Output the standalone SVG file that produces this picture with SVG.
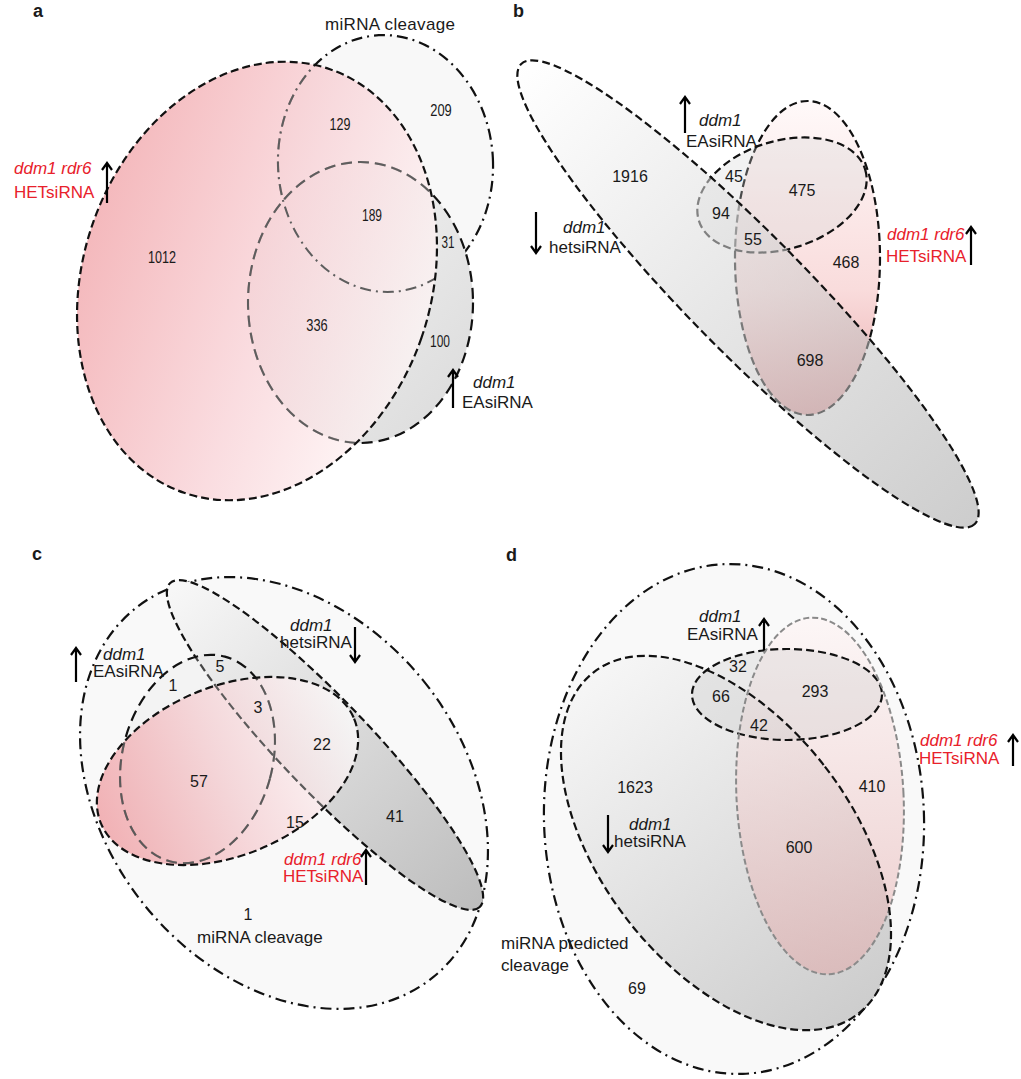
<svg xmlns="http://www.w3.org/2000/svg" width="1021" height="1079" viewBox="0 0 1021 1079">
<style>
text{font-family:"Liberation Sans",Arial,sans-serif;fill:#1a1a1a}
.lbl{font-size:17px}
.num{font-size:16px;text-anchor:middle}
.it{font-style:italic}
.red{fill:#e8212b}
.pn{font-size:18px;font-weight:bold}
.arr{fill:none;stroke:#000;stroke-width:2.2}
</style>
<defs>
<linearGradient id="aRed" x1="0" y1="0" x2="1" y2="0"><stop offset="0" stop-color="#f09ea3"/><stop offset="0.55" stop-color="#f8cfd4"/><stop offset="1" stop-color="#fff6f6"/></linearGradient>
<linearGradient id="aEa" x1="0" y1="0" x2="1" y2="1"><stop offset="0" stop-color="#f8f8f8"/><stop offset="1" stop-color="#dadada"/></linearGradient>
<linearGradient id="bHet" x1="0" y1="0" x2="1" y2="0"><stop offset="0" stop-color="#ffffff"/><stop offset="1" stop-color="#a4a4a4"/></linearGradient>
<linearGradient id="bRed" x1="0" y1="0" x2="0" y2="1"><stop offset="0" stop-color="#fff9f9"/><stop offset="0.6" stop-color="#f9dcdc"/><stop offset="1" stop-color="#e9a9ab"/></linearGradient>
<linearGradient id="cHet" x1="0" y1="0" x2="1" y2="0"><stop offset="0" stop-color="#f8f8f8"/><stop offset="1" stop-color="#bdbdbd"/></linearGradient>
<linearGradient id="cRed" x1="0" y1="0" x2="1" y2="0"><stop offset="0" stop-color="#ee969b"/><stop offset="0.5" stop-color="#f5cdd1"/><stop offset="1" stop-color="#ffffff"/></linearGradient>
<linearGradient id="dHet" x1="0" y1="0" x2="0" y2="1"><stop offset="0" stop-color="#f6f6f6"/><stop offset="1" stop-color="#cdcdcd"/></linearGradient>
<linearGradient id="dRed" x1="0" y1="0" x2="0" y2="1"><stop offset="0" stop-color="#fff4f4"/><stop offset="1" stop-color="#e2aaaa"/></linearGradient>
<clipPath id="clipA"><ellipse cx="257" cy="281" rx="174" ry="224" transform="rotate(19 257 281)"/></clipPath>
<clipPath id="clipC"><ellipse cx="227.5" cy="771" rx="137" ry="84.5" transform="rotate(-22.5 227.5 771)"/></clipPath>
</defs>

<!-- Panel a -->
<g id="panel-a">
<text class="pn" x="33" y="17">a</text>
<g id="a-mirna"><ellipse cx="385.5" cy="163.5" rx="107.5" ry="128.5" transform="rotate(-3 385.5 163.5)" fill="#f8f8f8" stroke="#111" stroke-width="2.2" stroke-dasharray="11 5 2 5"/></g>
<g id="a-easirna"><ellipse cx="360.5" cy="302.5" rx="112.5" ry="140.5" fill="url(#aEa)" stroke="#111" stroke-width="2.2" stroke-dasharray="11 6"/></g>
<g id="a-hetsirna"><ellipse cx="257" cy="281" rx="174" ry="224" transform="rotate(19 257 281)" fill="url(#aRed)" fill-opacity="0.72"/>
<g clip-path="url(#clipA)" fill="none" stroke="#5e5e5e" stroke-width="2">
<ellipse cx="385.5" cy="163.5" rx="107.5" ry="128.5" transform="rotate(-3 385.5 163.5)" stroke-dasharray="11 5 2 5"/>
<ellipse cx="360.5" cy="302.5" rx="112.5" ry="140.5" stroke-dasharray="11 6"/>
</g>
<ellipse cx="257" cy="281" rx="174" ry="224" transform="rotate(19 257 281)" fill="none" stroke="#111" stroke-width="2.2" stroke-dasharray="8 4"/></g>
<text class="lbl" x="325" y="30" textLength="130">miRNA cleavage</text>
<text class="lbl it red" x="14" y="174">ddm1 rdr6</text>
<text class="lbl red" x="14" y="198">HETsiRNA</text>
<text class="lbl it" x="473" y="388">ddm1</text>
<text class="lbl" x="462" y="408">EAsiRNA</text>
<text class="num" x="340" y="130" textLength="21" lengthAdjust="spacingAndGlyphs">129</text>
<text class="num" x="441" y="116" textLength="21.5" lengthAdjust="spacingAndGlyphs">209</text>
<text class="num" x="372" y="221" textLength="20" lengthAdjust="spacingAndGlyphs">189</text>
<text class="num" x="448" y="248" textLength="13" lengthAdjust="spacingAndGlyphs">31</text>
<text class="num" x="162" y="263" textLength="28" lengthAdjust="spacingAndGlyphs">1012</text>
<text class="num" x="317" y="331" textLength="21.5" lengthAdjust="spacingAndGlyphs">336</text>
<text class="num" x="440" y="347" textLength="20" lengthAdjust="spacingAndGlyphs">100</text>
</g>

<!-- Panel b -->
<g id="panel-b">
<text class="pn" x="513" y="17">b</text>
<g id="b-hetsirna-red"><ellipse cx="807.5" cy="258" rx="72.5" ry="157" fill="url(#bRed)" stroke="#111" stroke-width="2.2" stroke-dasharray="8 4"/></g>
<g id="b-easirna"><ellipse cx="782" cy="195" rx="87" ry="54" transform="rotate(-17 782 195)" fill="#d4d4d4" fill-opacity="0.3" stroke="#111" stroke-width="2.2" stroke-dasharray="8 4"/></g>
<g id="b-hetsirna-down"><ellipse cx="748" cy="294" rx="323" ry="59" transform="rotate(45.4 748 294)" fill="url(#bHet)" fill-opacity="0.55" stroke="#111" stroke-width="2.2" stroke-dasharray="8 4"/></g>
<text class="num" x="630" y="182">1916</text>
<text class="num" x="734" y="182">45</text>
<text class="num" x="802" y="196">475</text>
<text class="num" x="721" y="219">94</text>
<text class="num" x="753" y="245">55</text>
<text class="num" x="846" y="268">468</text>
<text class="num" x="810" y="366">698</text>
<text class="lbl it" x="699" y="126">ddm1</text>
<text class="lbl" x="686" y="147">EAsiRNA</text>
<text class="lbl it" x="563" y="233">ddm1</text>
<text class="lbl" x="549" y="253">hetsiRNA</text>
<text class="lbl it red" x="887" y="240">ddm1 rdr6</text>
<text class="lbl red" x="886" y="262">HETsiRNA</text>
</g>

<!-- Panel c -->
<g id="panel-c">
<text class="pn" x="32" y="560">c</text>
<g id="c-mirna"><ellipse cx="284" cy="793" rx="179" ry="237" transform="rotate(-39 284 793)" fill="#f9f9f9" stroke="#111" stroke-width="2.2" stroke-dasharray="11 5 2 5"/></g>
<g id="c-hetsirna-down"><ellipse cx="325" cy="745" rx="224" ry="45" transform="rotate(46.3 325 745)" fill="url(#cHet)" stroke="#111" stroke-width="2.2" stroke-dasharray="8 4"/></g>
<g id="c-easirna"><ellipse cx="197.5" cy="759" rx="75" ry="106" transform="rotate(15 197.5 759)" fill="#e4e4e4" fill-opacity="0.25" stroke="#111" stroke-width="2.2" stroke-dasharray="11 6"/></g>
<g id="c-hetsirna-red"><ellipse cx="227.5" cy="771" rx="137" ry="84.5" transform="rotate(-22.5 227.5 771)" fill="url(#cRed)" fill-opacity="0.72"/>
<g clip-path="url(#clipC)" fill="none" stroke="#5a5a5a" stroke-width="2">
<ellipse cx="325" cy="745" rx="224" ry="45" transform="rotate(46.3 325 745)" stroke-dasharray="8 4"/>
<ellipse cx="197.5" cy="759" rx="75" ry="106" transform="rotate(15 197.5 759)" stroke-dasharray="11 6"/>
</g>
<ellipse cx="227.5" cy="771" rx="137" ry="84.5" transform="rotate(-22.5 227.5 771)" fill="none" stroke="#111" stroke-width="2.2" stroke-dasharray="8 4"/></g>
<text class="lbl it" x="103" y="660">ddm1</text>
<text class="lbl" x="93" y="677">EAsiRNA</text>
<text class="lbl it" x="290" y="631">ddm1</text>
<text class="lbl" x="280" y="648">hetsiRNA</text>
<text class="lbl it red" x="284" y="865">ddm1 rdr6</text>
<text class="lbl red" x="283" y="882">HETsiRNA</text>
<text class="lbl" x="197" y="943">miRNA cleavage</text>
<text class="num" x="220" y="672">5</text>
<text class="num" x="173" y="691">1</text>
<text class="num" x="258" y="713">3</text>
<text class="num" x="322" y="750">22</text>
<text class="num" x="199" y="787">57</text>
<text class="num" x="295" y="828">15</text>
<text class="num" x="395" y="822">41</text>
<text class="num" x="248" y="920">1</text>
</g>

<!-- Panel d -->
<g id="panel-d">
<text class="pn" x="506" y="561">d</text>
<g id="d-mirna"><ellipse cx="734" cy="819" rx="190" ry="255" transform="rotate(-2 734 819)" fill="#f9f9f9" stroke="#111" stroke-width="2.2" stroke-dasharray="11 5 2 5"/></g>
<g id="d-hetsirna-down"><ellipse cx="726" cy="843" rx="125" ry="216" transform="rotate(-37.7 726 843)" fill="url(#dHet)"/></g>
<g id="d-hetsirna-red"><ellipse cx="820" cy="796" rx="83.5" ry="178.5" transform="rotate(-3 820 796)" fill="url(#dRed)" fill-opacity="0.55"/></g>
<g id="d-easirna"><ellipse cx="787" cy="694.5" rx="95" ry="45.5" fill="#c4c4c4" fill-opacity="0.28" stroke="#111" stroke-width="2.2" stroke-dasharray="8 4"/></g>
<ellipse cx="820" cy="796" rx="83.5" ry="178.5" transform="rotate(-3 820 796)" fill="none" stroke="#8a8a8a" stroke-width="2" stroke-dasharray="6 3"/>
<ellipse cx="726" cy="843" rx="125" ry="216" transform="rotate(-37.7 726 843)" fill="none" stroke="#111" stroke-width="2.2" stroke-dasharray="8 4"/>
<text class="lbl it" x="699" y="622">ddm1</text>
<text class="lbl" x="687" y="640">EAsiRNA</text>
<text class="lbl it" x="629" y="830">ddm1</text>
<text class="lbl" x="614" y="847">hetsiRNA</text>
<text class="lbl" x="501" y="949">miRNA predicted</text>
<text class="lbl" x="501" y="971">cleavage</text>
<text class="lbl it red" x="920" y="746">ddm1 rdr6</text>
<text class="lbl red" x="919" y="764">HETsiRNA</text>
<text class="num" x="738" y="672">32</text>
<text class="num" x="721" y="702">66</text>
<text class="num" x="815" y="697">293</text>
<text class="num" x="759" y="731">42</text>
<text class="num" x="635" y="793">1623</text>
<text class="num" x="872" y="792">410</text>
<text class="num" x="799" y="853">600</text>
<text class="num" x="637" y="994">69</text>
</g>

<g id="arrows">
<path class="arr" d="M107 203V163M102 170L107 163L112 170"/>
<path class="arr" d="M453 408V370M448 377L453 370L458 377"/>
<path class="arr" d="M685 133V97M680 104L685 97L690 104"/>
<path class="arr" d="M536 212V253M531 246L536 253L541 246"/>
<path class="arr" d="M971 265V227M966 234L971 227L976 234"/>
<path class="arr" d="M76 682V648M71 655L76 648L81 655"/>
<path class="arr" d="M355 627V662M350 655L355 662L360 655"/>
<path class="arr" d="M366 885V850M361 857L366 850L371 857"/>
<path class="arr" d="M764 650V619M759 626L764 619L769 626"/>
<path class="arr" d="M608 815V852M603 845L608 852L613 845"/>
<path class="arr" d="M1013 766V735M1008 742L1013 735L1018 742"/>
</g>
</svg>
